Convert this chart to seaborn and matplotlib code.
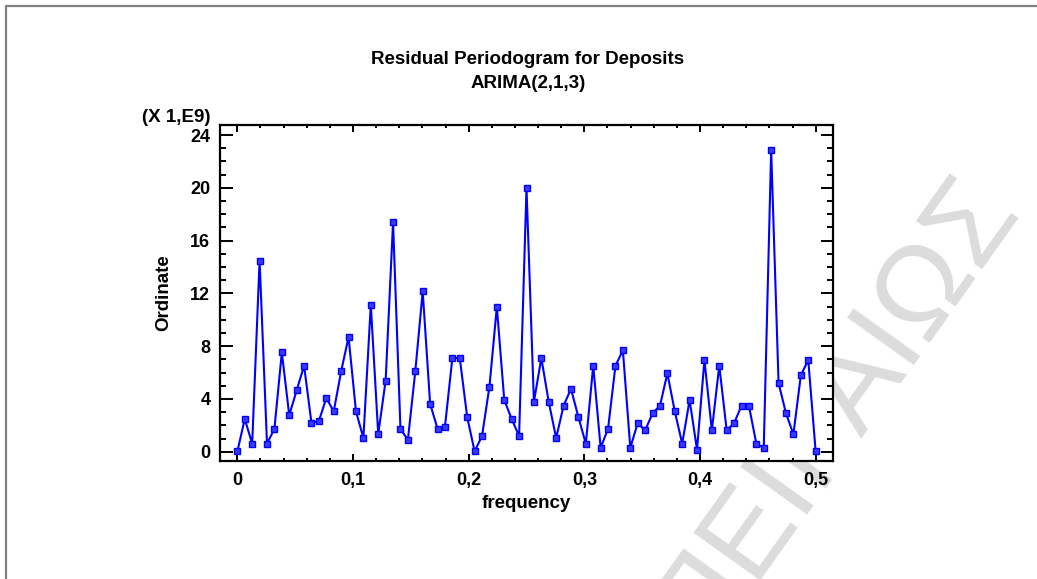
#!/usr/bin/env python3
# plot.py - periodogramme des residus ARIMA(2,1,3) pour Deposits

import numpy as np
import pandas as pd
import matplotlib
matplotlib.use('Agg')
import matplotlib.pyplot as plt
from matplotlib.lines import Line2D
from matplotlib.ticker import MultipleLocator
import seaborn as sns

# Donnees (ordonnee en unites de 1E9)
n_obs = 156
k_index = np.arange(79)
ordinate = [
    0.02, 2.48, 0.61, 14.47, 0.61, 1.74, 7.53, 2.76, 4.65, 6.52,
    2.17, 2.33, 4.07, 3.06, 6.09, 8.69, 3.06, 1.04, 11.14, 1.34,
    5.38, 17.38, 1.74, 0.89, 6.09, 12.15, 3.64, 1.74, 1.89, 7.10,
    7.10, 2.63, 0.03, 1.19, 4.92, 10.98, 3.92, 2.48, 1.19, 19.98,
    3.77, 7.10, 3.77, 1.04, 3.48, 4.77, 2.63, 0.61, 6.52, 0.30,
    1.74, 6.52, 7.68, 0.30, 2.17, 1.62, 2.91, 3.48, 5.94, 3.06,
    0.61, 3.92, 0.15, 6.95, 1.62, 6.52, 1.62, 2.17, 3.48, 3.48,
    0.61, 0.30, 22.86, 5.20, 2.91, 1.32, 5.79, 6.95, 0.03,
]
x_ticks = [0, 0.1, 0.2, 0.3, 0.4, 0.5]
x_tick_labels = ['0', '0,1', '0,2', '0,3', '0,4', '0,5']
y_ticks = [0, 4, 8, 12, 16, 20, 24]
y_tick_labels = ['0', '4', '8', '12', '16', '20', '24']

sns.set_theme(style='white')
plt.rcParams['font.family'] = ['Liberation Sans', 'DejaVu Sans']
plt.rcParams['font.weight'] = 'bold'
plt.rcParams['text.color'] = 'black'
plt.rcParams['axes.labelcolor'] = 'black'
plt.rcParams['xtick.color'] = 'black'
plt.rcParams['ytick.color'] = 'black'

df = pd.DataFrame({'frequency': k_index / n_obs, 'Ordinate': ordinate})

fig = plt.figure(figsize=(10.37, 5.79), dpi=100)
fig.patch.set_facecolor('white')

# filigrane en arriere-plan
fig.text(0.805, 0.292, 'ΠΕΙΡΑΙΩΣ', fontsize=86, fontweight='normal',
         color='#dcdcdc', rotation=54.5, rotation_mode='anchor',
         ha='center', va='center', zorder=-1)

# cadre gris (haut et gauche)
fig.add_artist(Line2D([6 / 1037, 6 / 1037], [0, 1 - 6 / 579],
                      color='#808080', lw=1.6, transform=fig.transFigure))
fig.add_artist(Line2D([6 / 1037, 1], [1 - 6 / 579, 1 - 6 / 579],
                      color='#808080', lw=1.6, transform=fig.transFigure))

ax = fig.add_axes([220 / 1037, 1 - 460.7 / 579, 613 / 1037, 335.7 / 579])
ax.set_facecolor('white')

sns.lineplot(data=df, x='frequency', y='Ordinate', ax=ax, color='#0000ff',
             lw=1.5, marker='s', markersize=4, markerfacecolor='#3a3aff',
             markeredgecolor='#0000ff', markeredgewidth=1.0)

ax.set_xlim(-0.015, 0.515)
ax.set_ylim(-0.68, 24.76)
ax.set_xticks(x_ticks)
ax.set_xticklabels(x_tick_labels)
ax.set_yticks(y_ticks)
ax.set_yticklabels(y_tick_labels)
ax.xaxis.set_minor_locator(MultipleLocator(0.02))
ax.yaxis.set_minor_locator(MultipleLocator(1))

ax.tick_params(axis='both', which='both', direction='in', top=True,
               right=True, bottom=True, left=True, color='black',
               width=1.4, labelsize=13, labelcolor='black')
ax.tick_params(axis='x', which='major', length=5, pad=8)
ax.tick_params(axis='x', which='minor', length=2.5)
ax.tick_params(axis='y', which='major', length=9, pad=7)
ax.tick_params(axis='y', which='minor', length=4.5)
for lab in ax.get_xticklabels() + ax.get_yticklabels():
    lab.set_fontweight('bold')
for sp in ax.spines.values():
    sp.set_visible(True)
    sp.set_color('black')
    sp.set_linewidth(1.6)

ax.set_xlabel('frequency', fontsize=13.5, fontweight='bold', va='center')
ax.set_ylabel('Ordinate', fontsize=13.5, fontweight='bold', va='center')
ax.xaxis.set_label_coords(0.5, (460.7 - 503) / 335.7)
ax.yaxis.set_label_coords((164 - 220) / 613, 0.5)

ax.text(211 / 1037, 1 - 118 / 579, '(X 1,E9)', transform=fig.transFigure,
        ha='right', va='center', fontsize=13.5, fontweight='bold')

fig.text(528 / 1037, 1 - 60 / 579, 'Residual Periodogram for Deposits',
         ha='center', va='center', fontsize=13.5, fontweight='bold')
fig.text(528 / 1037, 1 - 83 / 579, 'ARIMA(2,1,3)',
         ha='center', va='center', fontsize=13.5, fontweight='bold')

fig.savefig('out.png', dpi=100, facecolor='white')
